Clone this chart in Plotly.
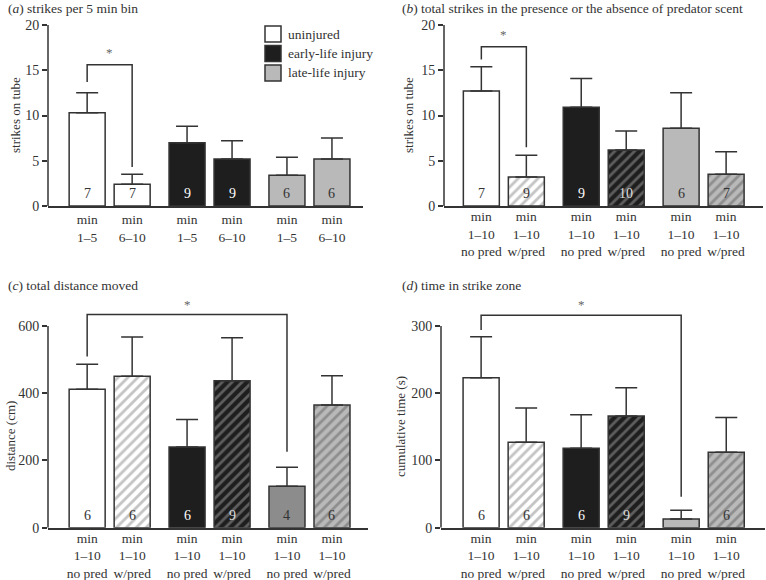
import plotly.graph_objects as go

# panel (a)
a_labels = ["min<br>1–5", "min<br>6–10"] * 3
a_means = [10.3, 2.4, 7.0, 5.2, 3.4, 5.2]
a_upper = [12.5, 3.5, 8.8, 7.2, 5.4, 7.5]
a_n = [7, 7, 9, 9, 6, 6]

# panels (b)-(d) share tick labels
pred_labels = ["min<br>1–10<br>no pred", "min<br>1–10<br>w/pred"] * 3

b_means = [12.7, 3.2, 10.9, 6.2, 8.6, 3.5]
b_upper = [15.4, 5.6, 14.1, 8.3, 12.5, 6.0]
b_n = [7, 9, 9, 10, 6, 7]

c_means = [412, 450, 240, 437, 123, 365]
c_upper = [486, 567, 322, 565, 180, 452]
c_n = [6, 6, 6, 9, 4, 6]

d_means = [223, 127, 118, 166, 13, 112]
d_upper = [284, 178, 168, 208, 26, 164]
d_n = [6, 6, 6, 9, "", 6]

groups = ["uninjured", "early-life injury", "late-life injury"]

INK = "#333333"
FONT = "Liberation Serif"

# per group: solid fill, stripe colour, label colour
solid = ["#ffffff", "#1e1e1e", "#b9b9b9"]
stripe = ["#c4c4c4", "#5e5e5e", "#8e8e8e"]
txt = [INK, "#ffffff", INK]

GAP = 2.22

W, H = 766, 580


def fx(px):
    return px / W


def fy(py):
    return 1 - py / H


def xpos(i):
    return (i // 2) * GAP + (i % 2)


fig = go.Figure()

panels = [
    dict(ax="", means=a_means, upper=a_upper, n=a_n, labels=a_labels, hatch=False,
         xdom=[fx(48), fx(363)], ydom=[fy(206), fy(25)], yr=[0, 20], ytop=20, dtick=5,
         xr=[-0.87, 6.13], ytitle="strikes on tube", yt_x=15, yt_y=115, lab_off=0,
         title="(<i>a</i>) strikes per 5 min bin", tx=6, ty=8,
         bracket=(0, 1, 13.7, 15.6, 4.3), star=17.0),
    dict(ax="2", means=b_means, upper=b_upper, n=b_n, labels=pred_labels, hatch=True,
         xdom=[fx(444), fx(763)], ydom=[fy(206), fy(25)], yr=[0, 20], ytop=20, dtick=5,
         xr=[-0.83, 6.26], ytitle="strikes on tube", yt_x=408, yt_y=115, lab_off=-3,
         title="(<i>b</i>) total strikes in the presence or the absence of predator scent",
         tx=400, ty=8, bracket=(0, 1, 16.2, 17.6, 6.5), star=18.9),
    dict(ax="3", means=c_means, upper=c_upper, n=c_n, labels=pred_labels, hatch=True,
         xdom=[fx(48), fx(368)], ydom=[fy(527.7), fy(299)], yr=[0, 680], ytop=600, dtick=200,
         xr=[-0.87, 6.24], ytitle="distance (cm)", yt_x=11, yt_y=436, lab_off=-3,
         title="(<i>c</i>) total distance moved", tx=6, ty=285,
         bracket=(0, 4, 509, 634, 226), star=664),
    dict(ax="4", means=d_means, upper=d_upper, n=d_n, labels=pred_labels, hatch=True,
         xdom=[fx(441), fx(765)], ydom=[fy(527.7), fy(299)], yr=[0, 340], ytop=300, dtick=100,
         xr=[-0.89, 6.3], ytitle="cumulative time (s)", yt_x=400, yt_y=427, lab_off=-3,
         title="(<i>d</i>) time in strike zone", tx=400, ty=285,
         bracket=(0, 4, 294, 316, 46), star=332),
]

for p_i, p in enumerate(panels):
    xa = "x" + p["ax"]
    ya = "y" + p["ax"]
    for i in range(6):
        g = i // 2
        fill = solid[g]
        if p_i == 2 and i == 4:
            fill = "#8c8c8c"
        marker = dict(color=fill, line=dict(color=INK, width=1.5))
        if p["hatch"] and i % 2 == 1:
            marker["pattern"] = dict(shape="/", fgcolor=stripe[g], bgcolor=fill,
                                     size=7, solidity=0.4, fillmode="replace")
        fig.add_trace(go.Bar(
            x=[xpos(i)], y=[p["means"][i]], width=0.8,
            marker=marker,
            error_y=dict(type="data", symmetric=False,
                         array=[p["upper"][i] - p["means"][i]], arrayminus=[0],
                         color=INK, thickness=1.5, width=11),
            name=groups[g], showlegend=False,
            xaxis=xa, yaxis=ya, hoverinfo="skip",
        ))
        tcol = txt[g]
        if p["hatch"] and i % 2 == 1 and g == 1:
            tcol = "#dddddd"
        fig.add_annotation(x=xpos(i), y=0, xref=xa, yref=ya, text=str(p["n"][i]),
                           showarrow=False, yanchor="bottom", yshift=3,
                           font=dict(family=FONT, size=14, color=tcol))

    key = p["ax"]
    fig.update_layout(**{
        "xaxis" + key: dict(domain=p["xdom"], range=p["xr"], anchor=ya,
                            tickmode="array", tickvals=[xpos(i) for i in range(6)],
                            ticktext=p["labels"], ticks="", showline=True,
                            linecolor=INK, linewidth=1.5, showgrid=False,
                            zeroline=False, automargin=False,
                            ticklabelstandoff=p["lab_off"],
                            tickfont=dict(family=FONT, size=13.5, color=INK)),
        "yaxis" + key: dict(domain=p["ydom"], range=p["yr"], anchor=xa,
                            tickmode="array",
                            tickvals=list(range(0, p["ytop"] + 1, p["dtick"])),
                            ticks="outside", ticklen=5, tickwidth=1.5, tickcolor=INK,
                            showline=False, showgrid=False, zeroline=False,
                            automargin=False,
                            tickfont=dict(family=FONT, size=14, color=INK)),
    })

    # y axis line stopping at the top tick
    fig.add_shape(type="line", xref=xa + " domain", yref=ya, x0=0, x1=0,
                  y0=0, y1=p["ytop"], line=dict(color=INK, width=1.5))

    # y axis title
    fig.add_annotation(x=fx(p["yt_x"]), y=fy(p["yt_y"]), xref="paper", yref="paper",
                       text=p["ytitle"], textangle=-90, showarrow=False,
                       xanchor="center", yanchor="middle",
                       font=dict(family=FONT, size=13, color=INK))

    # significance bracket
    l, r, yl, yt, yr_ = p["bracket"]
    fig.add_shape(type="path", xref=xa, yref=ya,
                  path=f"M {xpos(l)},{yl} L {xpos(l)},{yt} L {xpos(r)},{yt} L {xpos(r)},{yr_}",
                  line=dict(color=INK, width=1.5))
    fig.add_annotation(x=(xpos(l) + xpos(r)) / 2, y=p["star"], xref=xa, yref=ya,
                       text="*", showarrow=False,
                       font=dict(family=FONT, size=13, color="#666666"))

    # panel title
    fig.add_annotation(x=fx(p["tx"]), y=fy(p["ty"]), xref="paper", yref="paper",
                       text=p["title"], showarrow=False, xanchor="left", yanchor="middle",
                       font=dict(family=FONT, size=13.5, color=INK))

# legend drawn by hand in panel (a)
for g in range(3):
    top = 26 + 19.5 * g
    fig.add_shape(type="rect", xref="paper", yref="paper",
                  x0=fx(265), x1=fx(281), y0=fy(top + 16), y1=fy(top),
                  fillcolor=solid[g], line=dict(color=INK, width=1.5))
    fig.add_annotation(x=fx(286), y=fy(top + 8), xref="paper", yref="paper",
                       text=groups[g], showarrow=False, xanchor="left", yanchor="middle",
                       font=dict(family=FONT, size=13.5, color=INK))

fig.update_layout(
    width=W, height=H,
    margin=dict(l=0, r=0, t=0, b=0, autoexpand=False),
    paper_bgcolor="white", plot_bgcolor="white",
    barmode="overlay",
    showlegend=False,
    hovermode=False,
    font=dict(family=FONT, color=INK),
)

# no modebar, and drop the default 8px page margin so the figure fills the window
fig.write_html("out.html", config={"displayModeBar": False},
               post_script="document.body.style.margin = '0';")
